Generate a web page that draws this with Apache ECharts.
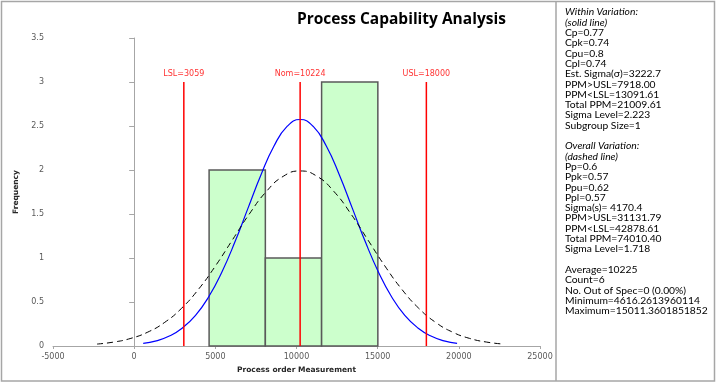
<!DOCTYPE html>
<html>
<head>
<meta charset="utf-8">
<script src="https://cdn.jsdelivr.net/npm/echarts@6/dist/echarts.min.js"></script>
<style>
  html, body { margin: 0; padding: 0; background: #fff; }
  #chart { width: 717px; height: 383px; }
</style>
</head>
<body>
<div id="chart"></div>
<script>
// histogram bins (edges from min to max, 3 bins)
const binEdges = [4616.26, 8081.30, 11546.33, 15011.36];
const binCounts = [2, 1, 3];

// spec limits
const specNames = ['LSL', 'Nom', 'USL'];
const specValues = [3059, 10224, 18000];

// within variation curve (solid blue)
const withinX = [557, 1363, 2168, 2974, 3780, 4585, 5391, 6197, 7002, 7808, 8614, 9419, 10225,
    11031, 11836, 12642, 13448, 14253, 15059, 15865, 16671, 17476, 18282, 19088, 19893];
const withinY = [0.029, 0.059, 0.113, 0.205, 0.348, 0.557, 0.836, 1.178, 1.561, 1.943, 2.272, 2.495, 2.574,
    2.495, 2.272, 1.943, 1.561, 1.178, 0.836, 0.557, 0.348, 0.205, 0.113, 0.059, 0.029];

// overall variation curve (dashed black)
const overallX = [-2286, -1244, -201, 841, 1884, 2927, 3969, 5012, 6054, 7097, 8140, 9182, 10225,
    11268, 12310, 13353, 14396, 15438, 16481, 17523, 18566, 19609, 20651, 21694, 22736];
const overallY = [0.022, 0.045, 0.087, 0.158, 0.269, 0.430, 0.646, 0.911, 1.206, 1.501, 1.755, 1.928, 1.989,
    1.928, 1.755, 1.501, 1.206, 0.911, 0.646, 0.430, 0.269, 0.158, 0.087, 0.045, 0.022];

// stats panel (lines starting with * are italic)
const statsLines = [
    '*Within Variation:', '*(solid line)', 'Cp=0.77', 'Cpk=0.74', 'Cpu=0.8', 'Cpl=0.74',
    'Est. Sigma(σ)=3222.7', 'PPM>USL=7918.00', 'PPM<LSL=13091.61', 'Total PPM=21009.61',
    'Sigma Level=2.223', 'Subgroup Size=1', '',
    '*Overall Variation:', '*(dashed line)', 'Pp=0.6', 'Ppk=0.57', 'Ppu=0.62', 'Ppl=0.57',
    'Sigma(s)= 4170.4', 'PPM>USL=31131.79', 'PPM<LSL=42878.61', 'Total PPM=74010.40',
    'Sigma Level=1.718', '',
    'Average=10225', 'Count=6', 'No. Out of Spec=0 (0.00%)',
    'Minimum=4616.2613960114', 'Maximum=15011.3601851852'
];

const xTicks = { min: -5000, max: 25000, interval: 5000 };
const yTicks = { min: 0, max: 3.5, interval: 0.5 };

const bins = binCounts.map((c, i) => [binEdges[i], binEdges[i + 1], c]);
const withinData = withinX.map((x, i) => [x, withinY[i]]);
const overallData = overallX.map((x, i) => [x, overallY[i]]);

const tickFont = 'DejaVu Sans';
const axisGray = '#a6a6a6';

const specSeries = specValues.map((v, i) => ({
    type: 'line',
    name: specNames[i],
    data: [[v, 0], [v, 3]],
    showSymbol: false,
    lineStyle: { color: '#ff0000', width: 1.5 },
    silent: true,
    z: 5,
    markPoint: {
        symbol: 'circle',
        symbolSize: 0,
        data: [{ coord: [v, 3] }],
        label: {
            show: true,
            position: 'top',
            distance: 4,
            formatter: specNames[i] + '=' + v,
            color: '#ff3333',
            fontFamily: tickFont,
            fontSize: 8
        }
    }
}));

const statsText = statsLines.map(l => l.startsWith('*') ? '{i|' + l.slice(1) + '}' : (l === '' ? ' ' : '{n|' + l + '}')).join('\n');

const chart = echarts.init(document.getElementById('chart'));
chart.setOption({
    animation: false,
    backgroundColor: '#ffffff',
    title: {
        text: 'Process Capability Analysis',
        left: 292,
        top: 7,
        textStyle: {
            fontFamily: 'Open Sans',
            fontWeight: 'bold',
            fontSize: 15.5,
            color: '#000'
        }
    },
    grid: {
        left: 53,
        right: 177,
        top: 38,
        bottom: 37
    },
    xAxis: {
        type: 'value',
        min: xTicks.min,
        max: xTicks.max,
        interval: xTicks.interval,
        name: 'Process order Measurement',
        nameLocation: 'middle',
        nameGap: 18,
        nameTextStyle: {
            fontFamily: tickFont,
            fontWeight: 'bold',
            fontSize: 7.5,
            color: '#262626'
        },
        splitLine: { show: false },
        axisLine: { show: true, onZero: false, lineStyle: { color: axisGray, width: 1 } },
        axisTick: { show: true, length: 3, lineStyle: { color: axisGray } },
        axisLabel: {
            fontFamily: tickFont,
            fontSize: 8,
            color: '#595959',
            margin: 7,
            formatter: (v) => String(v)
        }
    },
    yAxis: {
        type: 'value',
        min: yTicks.min,
        max: yTicks.max,
        interval: yTicks.interval,
        name: 'Frequency',
        nameLocation: 'middle',
        nameGap: 31,
        nameTextStyle: {
            fontFamily: tickFont,
            fontWeight: 'bold',
            fontSize: 7.5,
            color: '#262626'
        },
        splitLine: { show: false },
        axisLine: { show: true, lineStyle: { color: axisGray, width: 1 } },
        axisTick: { show: true, length: 5, lineStyle: { color: axisGray } },
        axisLabel: {
            fontFamily: tickFont,
            fontSize: 8,
            color: '#595959',
            margin: 9
        }
    },
    graphic: [
        {
            type: 'rect',
            shape: { x: 1.5, y: 1.5, width: 713, height: 379.5 },
            style: { fill: 'none', stroke: '#a6a6a6', lineWidth: 1.5 },
            silent: true
        },
        {
            type: 'line',
            shape: { x1: 556, y1: 1.5, x2: 556, y2: 381 },
            style: { stroke: '#a6a6a6', lineWidth: 1.5 },
            silent: true
        },
        {
            type: 'text',
            left: 565,
            top: 7,
            style: {
                text: statsText,
                fill: '#000',
                font: '10.3px Lato',
                lineHeight: 10.3,
                rich: {
                    n: { fontFamily: 'Lato', fontSize: 10.3, lineHeight: 10.3, fill: '#000' },
                    i: { fontFamily: 'Lato', fontSize: 10.3, fontStyle: 'italic', lineHeight: 10.3, fill: '#000' }
                }
            },
            silent: true
        }
    ],
    series: [
        {
            type: 'custom',
            name: 'Histogram',
            data: bins,
            encode: { x: [0, 1], y: 2 },
            renderItem: (params, api) => {
                const topLeft = api.coord([api.value(0), api.value(2)]);
                const bottomRight = api.coord([api.value(1), 0]);
                return {
                    type: 'rect',
                    shape: {
                        x: topLeft[0],
                        y: topLeft[1],
                        width: bottomRight[0] - topLeft[0],
                        height: bottomRight[1] - topLeft[1]
                    },
                    style: { fill: '#ccffcc', stroke: '#595959', lineWidth: 1.5 }
                };
            },
            z: 1
        },
        {
            type: 'line',
            name: 'Within',
            data: withinData,
            smooth: true,
            showSymbol: false,
            lineStyle: { color: '#0000ff', width: 1.2 },
            z: 3
        },
        {
            type: 'line',
            name: 'Overall',
            data: overallData,
            smooth: true,
            showSymbol: false,
            lineStyle: { color: '#000000', width: 1, type: [6, 4] },
            z: 3
        },
        ...specSeries
    ]
});
</script>
</body>
</html>
